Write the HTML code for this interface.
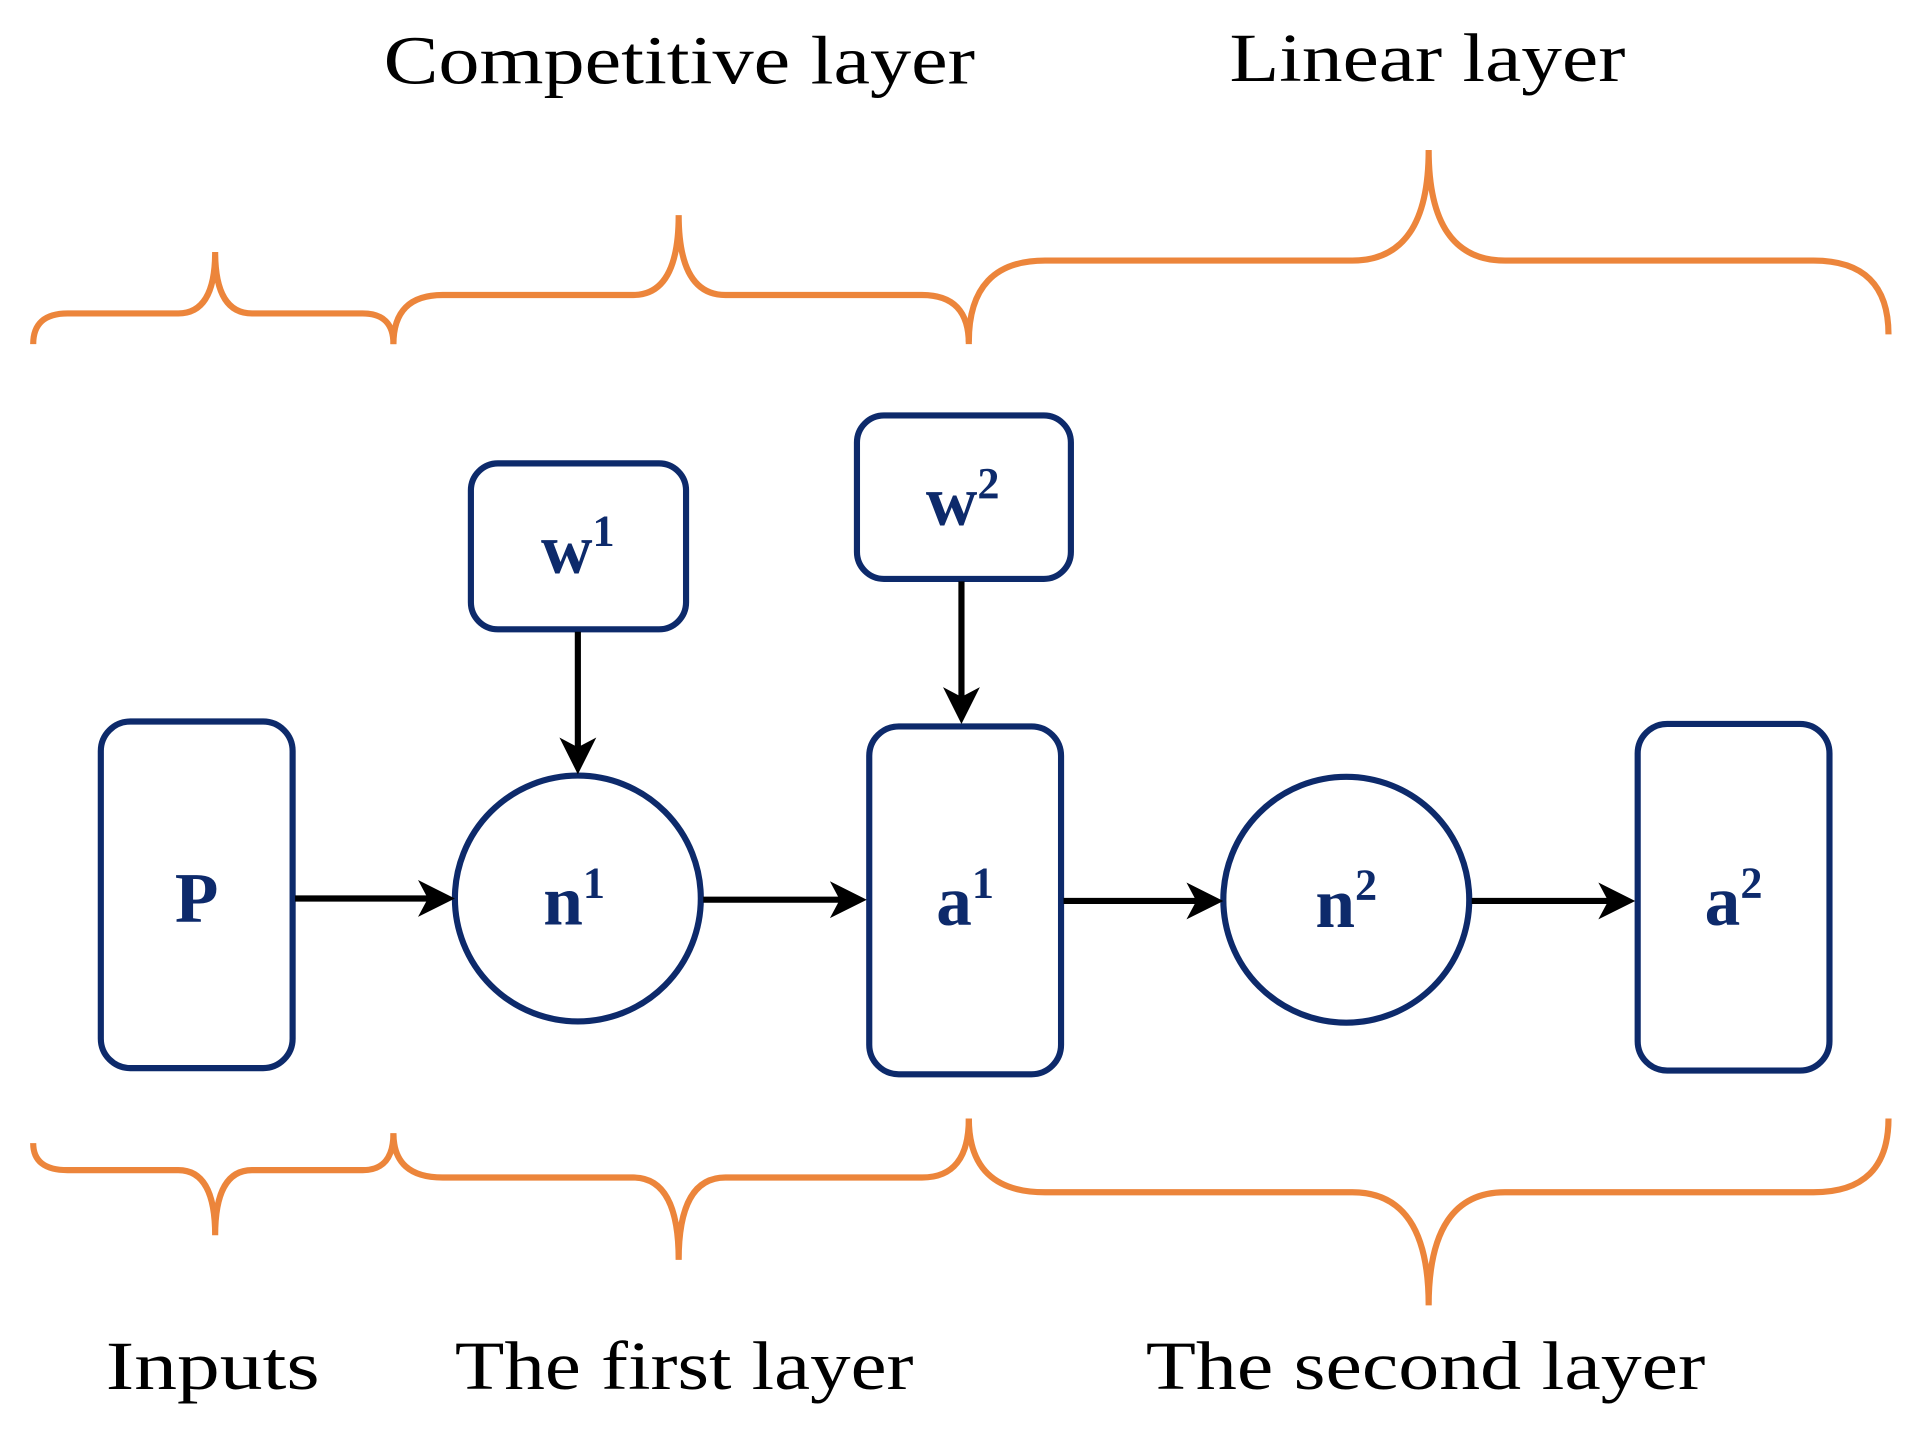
<!DOCTYPE html>
<html><head><meta charset="utf-8"><style>
html,body{margin:0;padding:0;background:#fff;}
svg{display:block;}
</style></head><body>
<svg width="1918" height="1443" viewBox="0 0 1560 1174" preserveAspectRatio="none" xmlns="http://www.w3.org/2000/svg">
<g font-family="Liberation Serif, serif" font-size="56" fill="#000">
<text x="312" y="68" textLength="481" lengthAdjust="spacingAndGlyphs">Competitive layer</text>
<text x="1000" y="66" textLength="322" lengthAdjust="spacingAndGlyphs">Linear layer</text>
<text x="86" y="1130" textLength="174" lengthAdjust="spacingAndGlyphs">Inputs</text>
<text x="370" y="1130" textLength="373" lengthAdjust="spacingAndGlyphs">The first layer</text>
<text x="932" y="1130" textLength="455" lengthAdjust="spacingAndGlyphs">The second layer</text>
</g>
<g fill="none" stroke="#ec853b" stroke-width="5" stroke-linecap="butt">
<path d="M27 280 Q27 255 55 255 L145 255 Q175 255 175 205 Q175 255 205 255 L295 255 Q320 255 320 280"/>
<path d="M320 280 Q320 240 360 240 L515 240 Q552 240 552 175 Q552 240 590 240 L750 240 Q788 240 788 280"/>
<path d="M788 278 Q788 212 850 212 L1100 212 Q1162 212 1162 122 Q1162 212 1224 212 L1475 212 Q1536 212 1536 272"/>
<path d="M27 930 Q27 952 55 952 L145 952 Q175 952 175 1005 Q175 952 205 952 L295 952 Q320 952 320 922"/>
<path d="M320 922 Q320 958 360 958 L515 958 Q552 958 552 1025 Q552 958 590 958 L750 958 Q788 958 788 910"/>
<path d="M788 910 Q788 970 850 970 L1100 970 Q1162 970 1162 1062 Q1162 970 1224 970 L1475 970 Q1536 970 1536 910"/>
</g>
<g fill="none" stroke="#0d2a6b" stroke-width="5">
<rect x="82" y="587" width="156" height="282" rx="24"/>
<circle cx="470" cy="731" r="100"/>
<rect x="707" y="591" width="156" height="283" rx="24"/>
<circle cx="1095" cy="732" r="100"/>
<rect x="1332" y="589" width="156" height="282" rx="24"/>
<rect x="383" y="377" width="175" height="135" rx="22"/>
<rect x="697" y="338" width="174" height="133" rx="22"/>
</g>
<g stroke="#000" stroke-width="5" fill="none">
<line x1="240" y1="731" x2="355" y2="731"/>
<line x1="572" y1="732" x2="690" y2="732"/>
<line x1="865" y1="733" x2="980" y2="733"/>
<line x1="1197" y1="733" x2="1315" y2="733"/>
<line x1="470" y1="514" x2="470" y2="615"/>
<line x1="782" y1="473" x2="782" y2="575"/>
</g>
<g fill="#000">
<path d="M370 731 L340 716 L348 731 L340 746 Z"/>
<path d="M705 732 L675 717 L683 732 L675 747 Z"/>
<path d="M995 733 L965 718 L973 733 L965 748 Z"/>
<path d="M1330 733 L1300 718 L1308 733 L1300 748 Z"/>
<path d="M470 630 L455 600 L470 608 L485 600 Z"/>
<path d="M782 589 L767 559 L782 567 L797 559 Z"/>
</g>
<g font-family="Liberation Serif, serif" font-weight="bold" font-size="58" fill="#0d2a6b" text-anchor="middle">
<text x="160" y="750">P</text>
<text x="467" y="752">n<tspan font-size="36" dy="-22">1</tspan></text>
<text x="785" y="752">a<tspan font-size="36" dy="-22">1</tspan></text>
<text x="1095" y="754">n<tspan font-size="36" dy="-22">2</tspan></text>
<text x="1410" y="752">a<tspan font-size="36" dy="-22">2</tspan></text>
<text x="470" y="466">w<tspan font-size="36" dy="-22">1</tspan></text>
<text x="783" y="427">w<tspan font-size="36" dy="-22">2</tspan></text>
</g>
</svg>
</body></html>
